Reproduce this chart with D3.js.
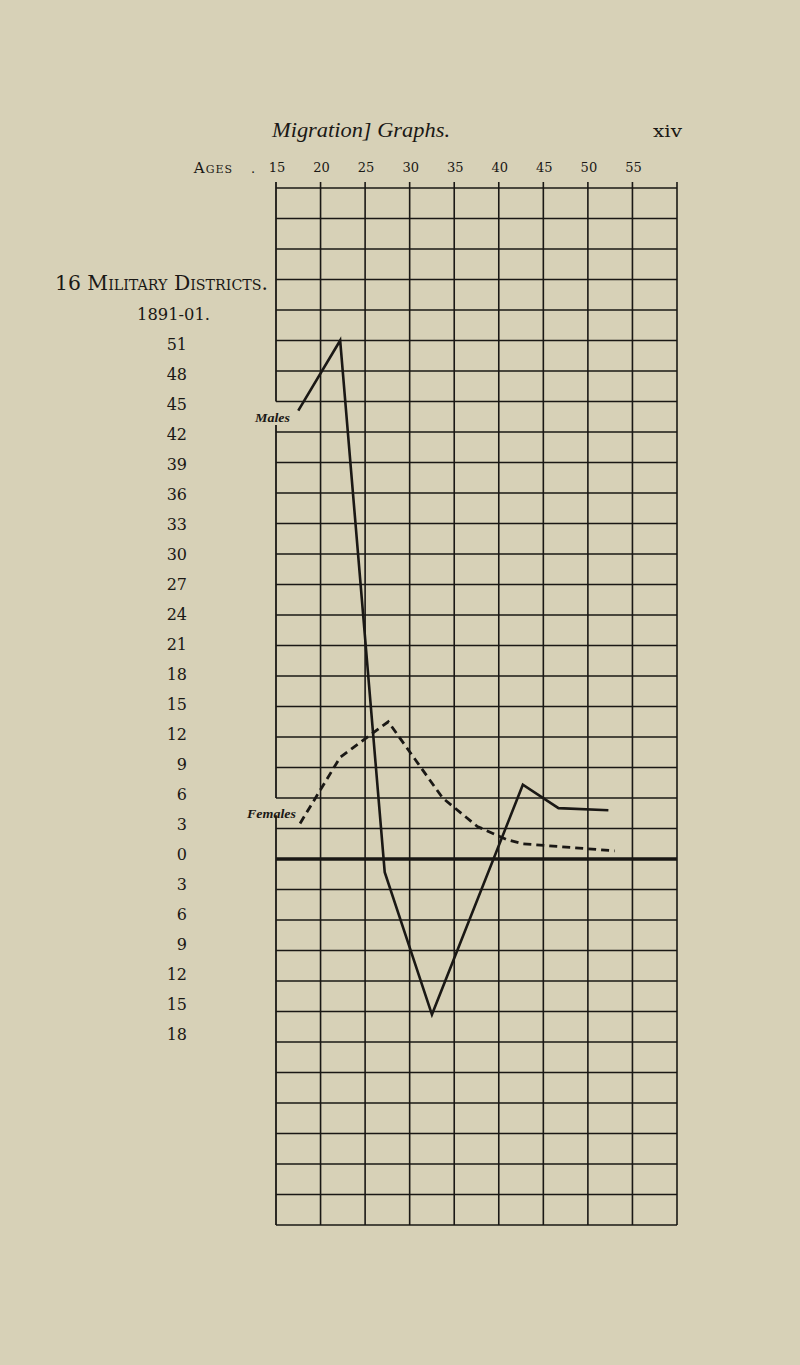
<!DOCTYPE html>
<html><head><meta charset="utf-8">
<script src="https://cdn.jsdelivr.net/npm/d3@7"></script>
<style>
html,body{margin:0;padding:0;background:#d7d1b7;}
svg{display:block;}
</style></head>
<body>
<script>
// ---- data ----
const ageTicks = [15, 20, 25, 30, 35, 40, 45, 50, 55];
const gridAges = [15, 20, 25, 30, 35, 40, 45, 50, 55, 60];
const yTickValues = [51,48,45,42,39,36,33,30,27,24,21,18,15,12,9,6,3,0,-3,-6,-9,-12,-15,-18];
const yTickLabels = ["51","48","45","42","39","36","33","30","27","24","21","18","15","12","9","6","3","0","3","6","9","12","15","18"];
const maleAges   = [17.5, 22.2, 27.2, 32.5, 42.7, 46.7, 52.3];
const maleValues = [44.1, 51.0, -1.3, -15.3, 7.3, 5.0, 4.8];
const femaleAges   = [17.7, 22.2, 27.6, 33.7, 37.6, 40.9, 42.7, 53.0];
const femaleValues = [3.5, 10.0, 13.5, 6.0, 3.2, 1.9, 1.5, 0.8];
const seriesLabels = ["Males", "Females"];

const W = 800, H = 1365;
const ink = "#1a1815";
const svg = d3.select("body").append("svg").attr("width", W).attr("height", H);
svg.append("rect").attr("width", W).attr("height", H).attr("fill", "#d7d1b7");

const x = d3.scaleLinear().domain([15, 60]).range([276, 677]);
const y = d3.scaleLinear().domain([66, -36]).range([188, 1225]);
const yLab = d3.scaleLinear().domain([51, -18]).range([344, 1034]);

const gridVals = d3.range(66, -36.1, -3);

// horizontal grid lines
svg.append("g").selectAll("line").data(gridVals).join("line")
  .attr("x1", x(15)).attr("x2", x(60))
  .attr("y1", d => y(d)).attr("y2", d => y(d))
  .attr("stroke", ink)
  .attr("stroke-width", d => d === 0 ? 3.4 : 1.6);

// vertical grid lines (with small ticks above the top line)
svg.append("g").selectAll("line").data(gridAges.slice(1)).join("line")
  .attr("x1", d => x(d)).attr("x2", d => x(d))
  .attr("y1", y(66) - 6).attr("y2", y(-36))
  .attr("stroke", ink).attr("stroke-width", 1.6);

// left border with gaps for the series labels
const leftSegs = [[66, 45], [42.7, 6], [4.3, -36]];
svg.append("g").selectAll("line").data(leftSegs).join("line")
  .attr("x1", x(15)).attr("x2", x(15))
  .attr("y1", (d, i) => i === 0 ? y(d[0]) - 6 : y(d[0]))
  .attr("y2", d => y(d[1]))
  .attr("stroke", ink).attr("stroke-width", 1.8);

// x tick labels
svg.append("g").selectAll("text").data(ageTicks).join("text")
  .attr("x", d => x(d) + 1).attr("y", 172)
  .attr("text-anchor", "middle")
  .attr("font-family", "DejaVu Serif").attr("font-size", 13)
  .attr("fill", ink).text(d => d);

// y tick labels
svg.append("g").selectAll("text").data(yTickValues).join("text")
  .attr("x", 187).attr("y", d => yLab(d) + 6)
  .attr("text-anchor", "end")
  .attr("font-family", "DejaVu Serif").attr("font-size", 16)
  .attr("fill", ink).text((d, i) => yTickLabels[i]);

// header texts
svg.append("text").attr("x", 272).attr("y", 137)
  .attr("font-family", "Liberation Serif").attr("font-style", "italic")
  .attr("font-size", 22).attr("fill", ink)
  .attr("textLength", 178).attr("lengthAdjust", "spacingAndGlyphs")
  .text("Migration] Graphs.");
svg.append("text").attr("x", 653).attr("y", 137)
  .attr("font-family", "DejaVu Serif").attr("font-size", 17).attr("fill", ink)
  .attr("textLength", 29).attr("lengthAdjust", "spacingAndGlyphs")
  .text("xiv");
svg.append("text").attr("x", 233).attr("y", 173)
  .attr("text-anchor", "end")
  .attr("font-family", "DejaVu Serif").attr("font-size", 15).attr("fill", ink)
  .attr("letter-spacing", 1)
  .style("font-variant", "small-caps")
  .text("Ages");
svg.append("text").attr("x", 251).attr("y", 173)
  .attr("font-family", "DejaVu Serif").attr("font-size", 13).attr("fill", ink).text(".");
svg.append("text").attr("x", 55).attr("y", 290)
  .attr("font-family", "DejaVu Serif").attr("font-size", 20).attr("fill", ink)
  .style("font-variant", "small-caps")
  .attr("textLength", 213).attr("lengthAdjust", "spacingAndGlyphs")
  .text("16 Military Districts.");
svg.append("text").attr("x", 137).attr("y", 320)
  .attr("font-family", "DejaVu Serif").attr("font-size", 17).attr("fill", ink)
  .attr("textLength", 73).attr("lengthAdjust", "spacingAndGlyphs")
  .text("1891-01.");

// series lines
const line = d3.line().x(d => x(d[0])).y(d => y(d[1]));
svg.append("path").datum(maleAges.map((a, i) => [a, maleValues[i]]))
  .attr("d", line).attr("fill", "none").attr("stroke", ink)
  .attr("stroke-width", 2.6).attr("stroke-linejoin", "miter");
svg.append("path").datum(femaleAges.map((a, i) => [a, femaleValues[i]]))
  .attr("d", line).attr("fill", "none").attr("stroke", ink)
  .attr("stroke-width", 2.8).attr("stroke-dasharray", "8,5");

// series labels
svg.append("text").attr("x", 255).attr("y", 422)
  .attr("font-family", "Liberation Serif").attr("font-style", "italic").attr("font-weight", "bold")
  .attr("font-size", 12).attr("fill", ink)
  .attr("textLength", 35).attr("lengthAdjust", "spacingAndGlyphs")
  .text(seriesLabels[0]);
svg.append("text").attr("x", 247).attr("y", 818)
  .attr("font-family", "Liberation Serif").attr("font-style", "italic").attr("font-weight", "bold")
  .attr("font-size", 12).attr("fill", ink)
  .attr("textLength", 49).attr("lengthAdjust", "spacingAndGlyphs")
  .text(seriesLabels[1]);
</script>
</body></html>
